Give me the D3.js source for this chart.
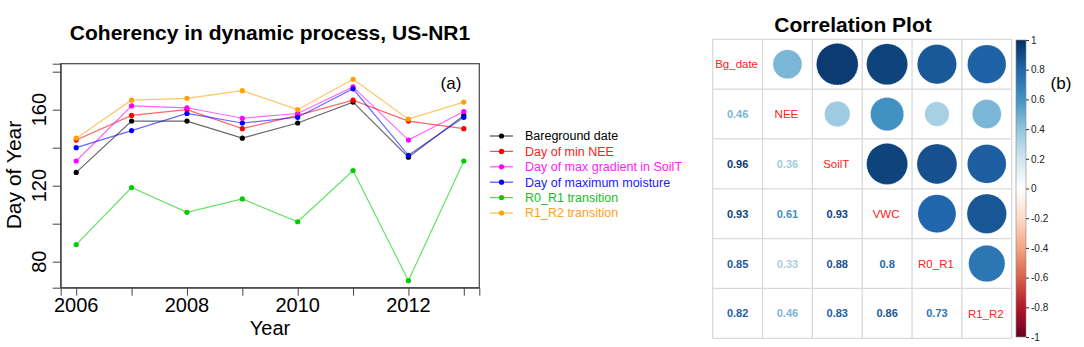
<!DOCTYPE html>
<html>
<head>
<meta charset="utf-8">
<script src="https://cdn.jsdelivr.net/npm/d3@7"></script>
<style>
  body { margin: 0; background: #fff; }
  svg { display: block; font-family: "Liberation Sans", Arial, sans-serif; }
</style>
</head>
<body>
<div id="chart"></div>
<script>
// Dados do gráfico (a): dia do ano por evento
const years = [2006, 2007, 2008, 2009, 2010, 2011, 2012, 2013];
const bareground = [127, 154, 154, 145, 153, 164, 135, 157];
const minNEE = [144, 157, 160, 150, 157, 165, 154, 150];
const maxGradSoilT = [133, 162, 161, 155.5, 158, 172, 144, 159];
const maxMoisture = [140, 149, 158, 153, 156, 171, 136, 156];
const r0r1 = [89, 119, 106, 113, 101, 128, 70, 133];
const r1r2 = [145, 165, 166, 170, 160, 176, 155, 164];

const seriesNames = ["Bareground date", "Day of min NEE", "Day of max gradient in SoilT",
    "Day of maximum moisture", "R0_R1 transition", "R1_R2 transition"];
const seriesColors = ["#000000", "#ff0000", "#ff00ff", "#0000ff", "#00cc00", "#ffa000"];
const legendTextColors = ["#000000", "#ff2020", "#ff20ff", "#2020ff", "#22bb22", "#ffa020"];

const yTicks = [80, 100, 120, 140, 160, 180];
const yLabels = [80, 120, 160];
const xLabels = [2006, 2008, 2010, 2012];

// Dados do gráfico (b): matriz de correlação
const corrVars = ["Bg_date", "NEE", "SoilT", "VWC", "R0_R1", "R1_R2"];
const corrRows = [
    [1, 0.46, 0.96, 0.93, 0.85, 0.82],
    [0.46, 1, 0.36, 0.61, 0.33, 0.46],
    [0.96, 0.36, 1, 0.93, 0.88, 0.83],
    [0.93, 0.61, 0.93, 1, 0.8, 0.86],
    [0.85, 0.33, 0.88, 0.8, 1, 0.73],
    [0.82, 0.46, 0.83, 0.86, 0.73, 1]
];
const colorbarTicks = [1, 0.8, 0.6, 0.4, 0.2, 0, -0.2, -0.4, -0.6, -0.8, -1];
const rdbuStops = ["#67001F", "#B2182B", "#D6604D", "#F4A582", "#FDDBC7", "#FFFFFF",
    "#D1E5F0", "#92C5DE", "#4393C3", "#2166AC", "#053061"];

const svg = d3.select("#chart").append("svg")
    .attr("width", 1084)
    .attr("height", 347);

// ---------- Painel (a) ----------
const box = { left: 60.7, right: 479.3, top: 63.7, bottom: 287.7 };

const x = d3.scaleLinear()
    .domain([2005.72, 2013.28])
    .range([box.left, box.right]);

const y = d3.scaleLinear()
    .domain([66.3, 184.2])
    .range([box.bottom, box.top]);

// Título
svg.append("text")
    .attr("x", 270)
    .attr("y", 40)
    .attr("text-anchor", "middle")
    .style("font-size", "21px")
    .style("font-weight", "bold")
    .text("Coherency in dynamic process, US-NR1");

// Caixa do gráfico
svg.append("rect")
    .attr("x", box.left)
    .attr("y", box.top)
    .attr("width", box.right - box.left)
    .attr("height", box.bottom - box.top)
    .attr("fill", "none")
    .attr("stroke", "#444")
    .attr("stroke-width", 1.2);

// Eixo Y
const yAxis = svg.append("g")
    .attr("transform", `translate(${box.left},0)`)
    .call(d3.axisLeft(y).tickValues(yTicks).tickSize(8).tickFormat(""));
yAxis.selectAll("path, line").attr("stroke", "#444");

svg.selectAll(".ylab")
    .data(yLabels)
    .enter().append("text")
    .attr("class", "ylab")
    .attr("transform", d => `translate(45.5,${y(d)}) rotate(-90)`)
    .attr("text-anchor", "middle")
    .style("font-size", "20px")
    .text(d => d);

// Eixo X
const xAxis = svg.append("g")
    .attr("transform", `translate(0,${box.bottom})`)
    .call(d3.axisBottom(x).tickValues(years).tickSize(8).tickFormat(""));
xAxis.selectAll("path, line").attr("stroke", "#444");

svg.selectAll(".xlab")
    .data(xLabels)
    .enter().append("text")
    .attr("class", "xlab")
    .attr("x", d => x(d))
    .attr("y", 312)
    .attr("text-anchor", "middle")
    .style("font-size", "20px")
    .text(d => d);

// Rótulos dos eixos
svg.append("text")
    .attr("x", 270)
    .attr("y", 335)
    .attr("text-anchor", "middle")
    .style("font-size", "20px")
    .text("Year");

svg.append("text")
    .attr("transform", "translate(21,175) rotate(-90)")
    .attr("text-anchor", "middle")
    .style("font-size", "21px")
    .text("Day of Year");

svg.append("text")
    .attr("x", 451)
    .attr("y", 89)
    .attr("text-anchor", "middle")
    .style("font-size", "17px")
    .text("(a)");

// Linhas e pontos
const allSeries = [bareground, minNEE, maxGradSoilT, maxMoisture, r0r1, r1r2];
const line = d3.line()
    .x((d, i) => x(years[i]))
    .y(d => y(d));

allSeries.forEach((values, k) => {
    svg.append("path")
        .datum(values)
        .attr("fill", "none")
        .attr("stroke", seriesColors[k])
        .attr("stroke-opacity", 0.6)
        .attr("stroke-width", 1.2)
        .attr("d", line);
});
allSeries.forEach((values, k) => {
    svg.append("g").selectAll("circle")
        .data(values)
        .enter().append("circle")
        .attr("cx", (d, i) => x(years[i]))
        .attr("cy", d => y(d))
        .attr("r", 2.6)
        .attr("fill", seriesColors[k]);
});

// Legenda
const legend = svg.append("g")
    .attr("transform", "translate(490,136)");

seriesNames.forEach((name, i) => {
    const row = legend.append("g")
        .attr("transform", `translate(0,${i * 15.4})`);
    row.append("line")
        .attr("x1", 0).attr("x2", 23)
        .attr("y1", 0).attr("y2", 0)
        .attr("stroke", seriesColors[i])
        .attr("stroke-opacity", 0.7)
        .attr("stroke-width", 1.2);
    row.append("circle")
        .attr("cx", 11.5).attr("cy", 0).attr("r", 2.6)
        .attr("fill", seriesColors[i]);
    row.append("text")
        .attr("x", 35)
        .attr("y", 0)
        .attr("dy", "0.35em")
        .attr("fill", legendTextColors[i])
        .style("font-size", "12.5px")
        .text(name);
});

// ---------- Painel (b) ----------
const n = corrVars.length;
const gx0 = 712.7, gy0 = 39.3, gSize = 299;

const cx = d3.scaleBand().domain(d3.range(n)).range([gx0, gx0 + gSize]);
const cy = d3.scaleBand().domain(d3.range(n)).range([gy0, gy0 + gSize]);
const cell = cx.bandwidth();

const corrColor = d3.scaleLinear()
    .domain(d3.range(11).map(i => -1 + i * 0.2))
    .range(rdbuStops);

svg.append("text")
    .attr("x", 853)
    .attr("y", 31.5)
    .attr("text-anchor", "middle")
    .style("font-size", "21px")
    .style("font-weight", "bold")
    .text("Correlation Plot");

// Grade
const grid = svg.append("g");
d3.range(n + 1).forEach(i => {
    grid.append("line")
        .attr("x1", gx0 + i * cell).attr("x2", gx0 + i * cell)
        .attr("y1", gy0).attr("y2", gy0 + gSize)
        .attr("stroke", "#d9d9d9").attr("stroke-width", 1.3);
    grid.append("line")
        .attr("x1", gx0).attr("x2", gx0 + gSize)
        .attr("y1", gy0 + i * cell).attr("y2", gy0 + i * cell)
        .attr("stroke", "#d9d9d9").attr("stroke-width", 1.3);
});

const cells = [];
corrRows.forEach((row, i) => row.forEach((v, j) => cells.push({ i, j, v })));

// Círculos (triângulo superior)
svg.append("g").selectAll("circle")
    .data(cells.filter(d => d.j > d.i))
    .enter().append("circle")
    .attr("cx", d => cx(d.j) + cell / 2)
    .attr("cy", d => cy(d.i) + cell / 2)
    .attr("r", d => 0.428 * Math.sqrt(Math.abs(d.v)) * cell)
    .attr("fill", d => corrColor(d.v))
    .attr("stroke", "#ffffff")
    .attr("stroke-opacity", 0.5)
    .attr("stroke-width", 0.8)
    .attr("stroke-dasharray", "2,1");

// Números (triângulo inferior)
svg.append("g").selectAll("text")
    .data(cells.filter(d => d.j < d.i))
    .enter().append("text")
    .attr("x", d => cx(d.j) + cell / 2)
    .attr("y", d => cy(d.i) + cell / 2)
    .attr("dy", "0.36em")
    .attr("text-anchor", "middle")
    .attr("fill", d => corrColor(d.v))
    .style("font-size", "11px")
    .style("font-weight", "bold")
    .text(d => d.v);

// Nomes na diagonal
svg.append("g").selectAll("text")
    .data(corrVars)
    .enter().append("text")
    .attr("x", (d, i) => cx(i) + cell / 2 - 1)
    .attr("y", (d, i) => cy(i) + cell / 2)
    .attr("dy", "0.36em")
    .attr("text-anchor", "middle")
    .attr("fill", "#ff2020")
    .style("font-size", "11.5px")
    .text(d => d);

// Barra de cores
const barY = d3.scaleLinear().domain([1, -1]).range([40, 337]);
const defs = svg.append("defs");
const grad = defs.append("linearGradient")
    .attr("id", "rdbu")
    .attr("x1", 0).attr("x2", 0).attr("y1", 0).attr("y2", 1);
grad.selectAll("stop")
    .data(rdbuStops.slice().reverse())
    .enter().append("stop")
    .attr("offset", (d, i) => i / 10)
    .attr("stop-color", d => d);

svg.append("rect")
    .attr("x", 1016)
    .attr("y", barY(1))
    .attr("width", 10)
    .attr("height", barY(-1) - barY(1))
    .attr("fill", "url(#rdbu)")
    .attr("stroke", "#888")
    .attr("stroke-width", 0.6);

const barAxis = svg.append("g")
    .attr("transform", "translate(1026,0)")
    .call(d3.axisRight(barY).tickValues(colorbarTicks).tickSize(3).tickPadding(2)
        .tickFormat(d => d === 0 ? "0" : String(d)));
barAxis.select(".domain").remove();
barAxis.selectAll("line").attr("stroke", "#333");
barAxis.selectAll("text")
    .attr("fill", "#222")
    .style("font-size", "10px")
    .style("font-family", "Liberation Sans, Arial, sans-serif");

svg.append("text")
    .attr("x", 1061)
    .attr("y", 89)
    .attr("text-anchor", "middle")
    .style("font-size", "17px")
    .text("(b)");
</script>
</body>
</html>
